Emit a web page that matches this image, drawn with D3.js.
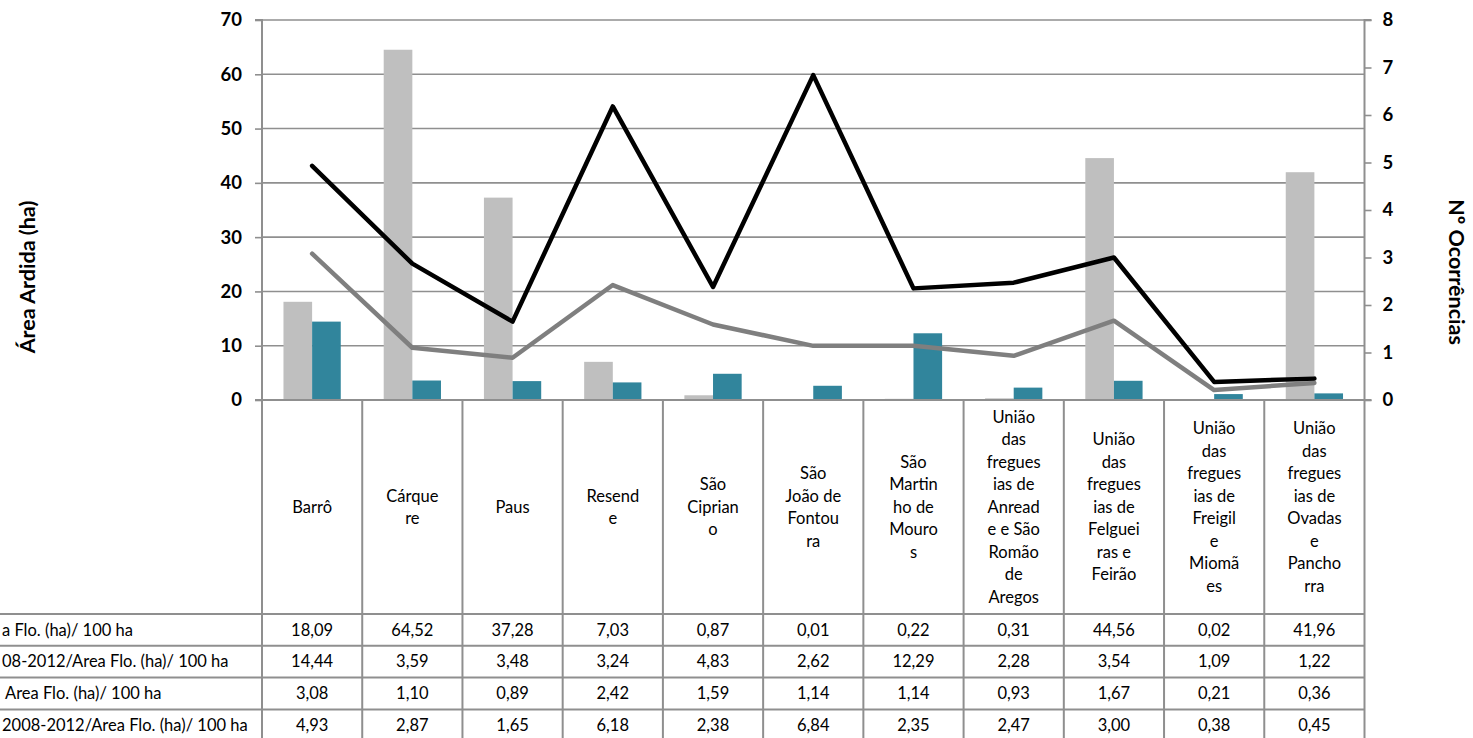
<!DOCTYPE html>
<html>
<head>
<meta charset="utf-8">
<script src="https://cdn.jsdelivr.net/npm/d3@7"></script>
<style>
  html, body { margin: 0; padding: 0; background: #fff; overflow: hidden; }
  svg { display: block; font-family: Lato, "Open Sans", sans-serif; }
</style>
</head>
<body>
<svg id="chart" width="1473" height="738"></svg>
<script>
// ---------- data ----------
const categories = ["Barrô","Cárquere","Paus","Resende","São Cipriano","São João de Fontoura",
  "São Martinho de Mouros","União das freguesias de Anreade e São Romão de Aregos",
  "União das freguesias de Felgueiras e Feirão","União das freguesias de Freigil e Miomães",
  "União das freguesias de Ovadas e Panchorra"];
const categoryLines = [
  ["Barrô"],
  ["Cárque","re"],
  ["Paus"],
  ["Resend","e"],
  ["São","Ciprian","o"],
  ["São","João de","Fontou","ra"],
  ["São","Martin","ho de","Mouro","s"],
  ["União","das","fregues","ias de","Anread","e e São","Romão","de","Aregos"],
  ["União","das","fregues","ias de","Felguei","ras e","Feirão"],
  ["União","das","fregues","ias de","Freigil","e","Miomã","es"],
  ["União","das","fregues","ias de","Ovadas","e","Pancho","rra"]
];
// row labels of the data table, as far as they are visible in the chart
const seriesNames = [
  "a Flo. (ha)/ 100 ha",
  "08-2012/Area Flo. (ha)/ 100 ha",
  "Area Flo. (ha)/ 100 ha",
  "2008-2012/Area Flo. (ha)/ 100 ha"
];
const areaArdida2013   = [18.09,64.52,37.28,7.03,0.87,0.01,0.22,0.31,44.56,0.02,41.96];
const areaArdidaMedia  = [14.44,3.59,3.48,3.24,4.83,2.62,12.29,2.28,3.54,1.09,1.22];
const ocorrencias2013  = [3.08,1.10,0.89,2.42,1.59,1.14,1.14,0.93,1.67,0.21,0.36];
const ocorrenciasMedia = [4.93,2.87,1.65,6.18,2.38,6.84,2.35,2.47,3.00,0.38,0.45];
const leftTicks  = [0,10,20,30,40,50,60,70];
const rightTicks = [0,1,2,3,4,5,6,7,8];
const leftTitle  = "Área Ardida (ha)";
const rightTitle = "Nº Ocorrências";

// ---------- layout ----------
const svg = d3.select("#chart");
const L = 262, R = 1364.5, T = 20, B = 400;
const tableTop = 400, headerBottom = 614, rowH = 31.8;
const gridColor = "#8f8f8f";
const barColors = ["#BFBFBF", "#31859C"];
const lineColors = ["#7f7f7f", "#000000"];

const x = d3.scaleBand().domain(categories).range([L, R]).padding(0);
const xBar = d3.scaleBand().domain([0,1]).range([0, x.bandwidth()]).paddingInner(0).paddingOuter(0.75);
const yL = d3.scaleLinear().domain([0,70]).range([B, T]);
const yR = d3.scaleLinear().domain([0,8]).range([B, T]);

const fmt = v => d3.format(".2f")(v).replace(".", ",");

// gridlines
svg.append("g").selectAll("line").data(leftTicks.filter(d => d > 0)).join("line")
  .attr("x1", L).attr("x2", R).attr("y1", d => yL(d)).attr("y2", d => yL(d))
  .attr("stroke", gridColor).attr("stroke-width", 1.6);

// bars
const barSeries = [areaArdida2013, areaArdidaMedia];
barSeries.forEach((vals, si) => {
  svg.append("g").selectAll("rect").data(vals).join("rect")
    .attr("x", (d, i) => x(categories[i]) + xBar(si))
    .attr("width", xBar.bandwidth())
    .attr("y", d => yL(d))
    .attr("height", d => B - yL(d))
    .attr("fill", barColors[si]);
});

// left axis
const gL = svg.append("g").attr("transform", `translate(${L},0)`)
  .call(d3.axisLeft(yL).tickValues(leftTicks).tickSize(7).tickPadding(13).tickFormat(d3.format("d")));
gL.select(".domain").attr("stroke", gridColor).attr("stroke-width", 2).attr("d", `M-7,${T}H0V${B}`);
gL.selectAll(".tick line").attr("stroke", gridColor).attr("stroke-width", 1.6);
gL.selectAll(".tick text").attr("font-size", 18.5).attr("font-weight", "bold").attr("fill", "#000")
  .attr("font-family", "Lato, sans-serif");

// right axis
const gR = svg.append("g").attr("transform", `translate(${R},0)`)
  .call(d3.axisRight(yR).tickValues(rightTicks).tickSize(7).tickPadding(11).tickFormat(d3.format("d")));
gR.select(".domain").attr("stroke", gridColor).attr("stroke-width", 2).attr("d", `M7,${T}H0V${B}`);
gR.selectAll(".tick line").attr("stroke", gridColor).attr("stroke-width", 1.6);
gR.selectAll(".tick text").attr("font-size", 18.5).attr("font-weight", "bold").attr("fill", "#000")
  .attr("font-family", "Lato, sans-serif");

// lines
const lineSeries = [ocorrencias2013, ocorrenciasMedia];
lineSeries.forEach((vals, si) => {
  const line = d3.line().x((d, i) => x(categories[i]) + x.bandwidth() / 2).y(d => yR(d));
  svg.append("path").datum(vals).attr("d", line)
    .attr("fill", "none").attr("stroke", lineColors[si]).attr("stroke-width", 4.5)
    .attr("stroke-linejoin", "round").attr("stroke-linecap", "round");
});

// axis titles
svg.append("text").attr("transform", "translate(35,277) rotate(-90)")
  .attr("text-anchor", "middle").attr("font-size", 21.5).attr("font-weight", "bold").text(leftTitle);
svg.append("text").attr("transform", "translate(1449,272) rotate(90)")
  .attr("text-anchor", "middle").attr("font-size", 21.5).attr("font-weight", "bold").text(rightTitle);

// ---------- data table ----------
const tbl = svg.append("g");
tbl.append("line").attr("x1", L - 7).attr("x2", R + 7).attr("y1", B).attr("y2", B)
  .attr("stroke", gridColor).attr("stroke-width", 2);
const vx = categories.map(c => x(c)).concat([R]);
tbl.selectAll(".v").data(vx).join("line")
  .attr("x1", d => d).attr("x2", d => d).attr("y1", tableTop).attr("y2", 745)
  .attr("stroke", gridColor).attr("stroke-width", 2);
const hy = d3.range(4).map(i => headerBottom + i * rowH);
tbl.selectAll(".h").data(hy).join("line")
  .attr("x1", 0).attr("x2", R).attr("y1", d => d).attr("y2", d => d)
  .attr("stroke", gridColor).attr("stroke-width", 2);

// category header labels
const lineH = 22.5;
const headerMid = (tableTop + headerBottom) / 2;
categories.forEach((c, i) => {
  const lines = categoryLines[i];
  const t = tbl.append("text").attr("text-anchor", "middle").attr("font-size", 16.5)
    .attr("fill", "#000");
  lines.forEach((ln, j) => {
    t.append("tspan").attr("x", x(c) + x.bandwidth() / 2)
      .attr("y", headerMid + (j - (lines.length - 1) / 2) * lineH)
      .attr("dy", "0.35em").text(ln);
  });
});

// rows
const rowData = [areaArdida2013, areaArdidaMedia, ocorrencias2013, ocorrenciasMedia];
const labelStarts = [2, 2, 5, 2];
rowData.forEach((vals, r) => {
  const cy = headerBottom + r * rowH + rowH / 2;
  tbl.append("text").attr("x", labelStarts[r]).attr("y", cy).attr("dy", "0.35em")
    .attr("text-anchor", "start").attr("font-size", 16.5).text(seriesNames[r]);
  tbl.append("g").selectAll("text").data(vals).join("text")
    .attr("x", (d, i) => x(categories[i]) + x.bandwidth() / 2)
    .attr("y", cy).attr("dy", "0.35em").attr("text-anchor", "middle")
    .attr("font-size", 16.5).text(d => fmt(d));
});
</script>
</body>
</html>
